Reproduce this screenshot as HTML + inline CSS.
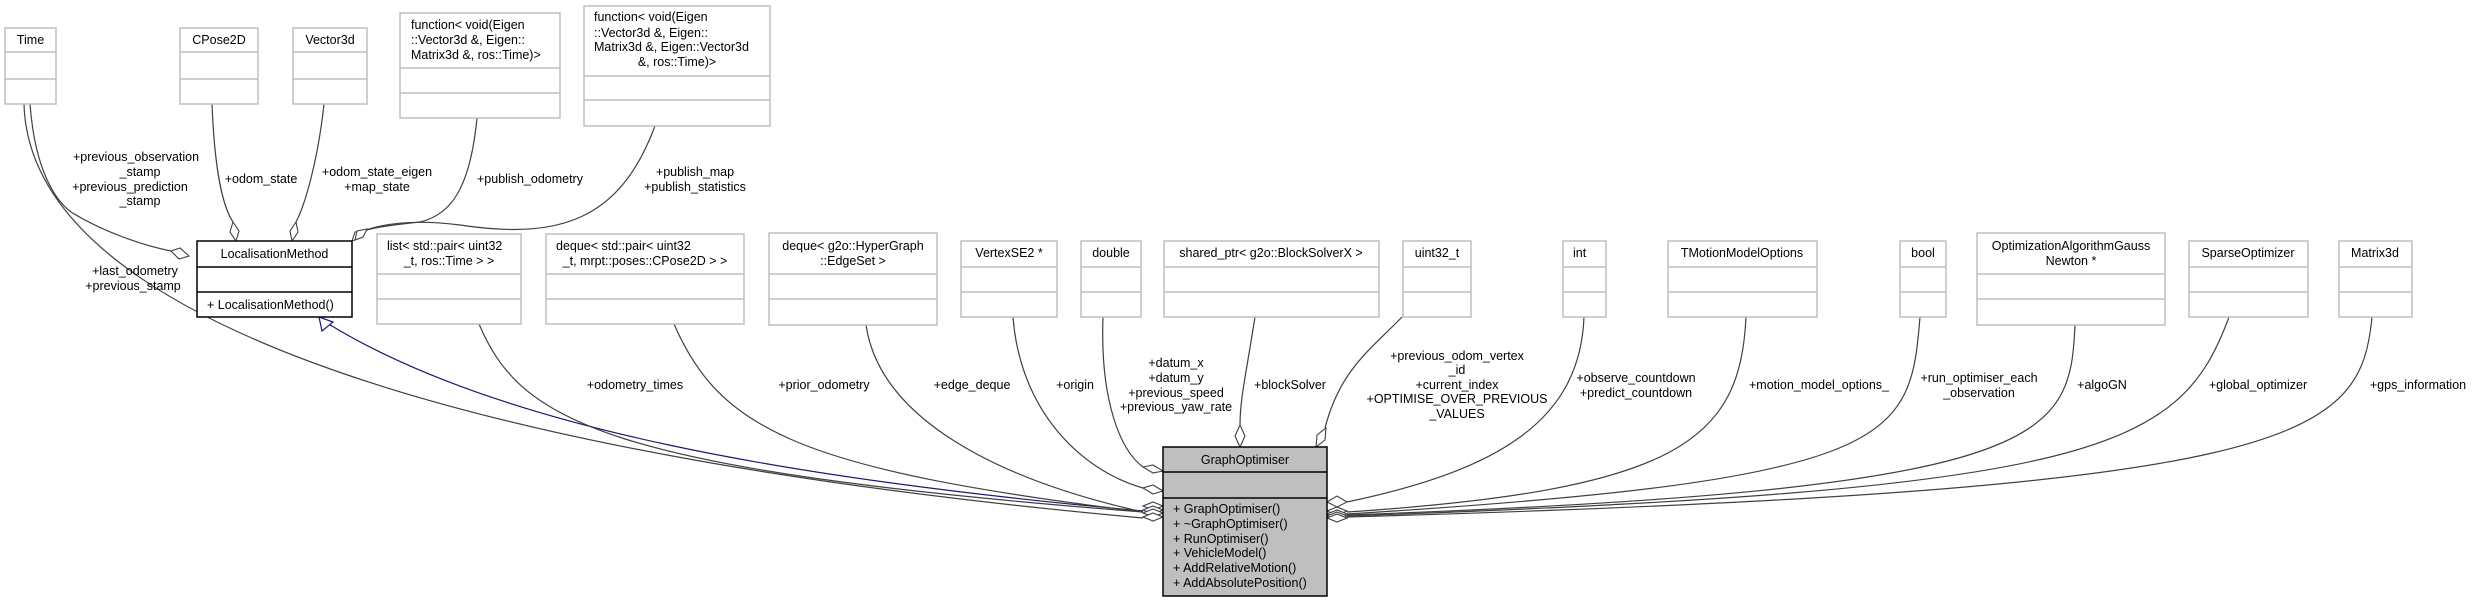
<!DOCTYPE html>
<html><head><meta charset="utf-8"><style>
html,body{margin:0;padding:0;background:#fff;}
svg{display:block;}
text{font-family:"Liberation Sans",sans-serif;font-size:12.5px;fill:#000;}
.b{fill:#fff;stroke:#bfbfbf;stroke-width:1.5;}
.bl{stroke:#bfbfbf;stroke-width:1.5;}
.e{fill:none;stroke:#404040;stroke-width:1.2;}
.d{fill:#fff;stroke:#404040;stroke-width:1.1;}
</style></head><body>
<svg width="2475" height="603" viewBox="0 0 2475 603" xmlns="http://www.w3.org/2000/svg">
<!-- edges -->
<path class="e" d="M24,104 C30,330 500,460 1143,518"/>
<path class="e" d="M30,104 C35,170 55,200 71,212 C100,230 140,245 171,251"/>
<path fill="none" stroke="#191970" stroke-width="1.2" d="M1143,511 C800,480 500,430 327,323"/>
<polygon fill="#fff" stroke="#191970" stroke-width="1.2" points="319,317 322,331 333,322"/>
<path class="e" d="M479,324 C520,420 600,470 1143,512"/>
<path class="e" d="M674,324 C720,430 800,470 1143,512"/>
<path class="e" d="M866,325 C880,420 1000,480 1143,512"/>
<path class="e" d="M1013,317 C1020,410 1080,470 1143,488"/>
<path class="e" d="M1103,317 C1100,400 1120,450 1143,467"/>
<path class="e" d="M1255,317 C1245,380 1240,400 1240,425"/>
<path class="e" d="M1402,317 C1370,350 1340,370 1325,428"/>
<path class="e" d="M1584,317 C1580,420 1500,470 1347,502"/>
<path class="e" d="M1746,317 C1740,440 1680,490 1347,512"/>
<path class="e" d="M1920,317 C1910,440 1900,480 1347,514"/>
<path class="e" d="M2075,325 C2070,440 2050,490 1347,515"/>
<path class="e" d="M2229,317 C2180,450 2100,490 1347,516"/>
<path class="e" d="M2372,317 C2360,440 2300,490 1347,517"/>
<path class="e" d="M212,104 C215,180 225,210 233,222"/>
<path class="e" d="M324,104 C318,160 305,205 296,222"/>
<path class="e" d="M477,118 C470,190 450,215 420,222 C390,225 370,228 362,232"/>
<path class="e" d="M655,126 C620,220 560,240 460,225 C420,220 390,222 366,230"/>
<!-- diamonds -->
<polygon class="d" points="189,256 180,248 171,251 179,259"/>
<polygon class="d" points="233,222 239,231 236,241 230,232"/>
<polygon class="d" points="296,222 298,232 292,241 290,231"/>
<polygon class="d" points="352,241 355,232 364,230 360,238"/>
<polygon class="d" points="355,240 357,231 367,229 363,237"/>
<polygon class="d" points="1240,425 1245,436 1240,447 1235,436"/>
<polygon class="d" points="1316,447 1317,435 1326,428 1325,440"/>
<polygon class="d" points="1163,471 1153,465 1143,467 1153,473"/>
<polygon class="d" points="1163,491 1153,485 1143,488 1153,494"/>
<polygon class="d" points="1163,506 1153,502 1143,506 1153,510"/>
<polygon class="d" points="1163,510 1153,506 1143,510 1153,514"/>
<polygon class="d" points="1163,513 1153,509 1143,513 1153,517"/>
<polygon class="d" points="1163,517 1153,513 1143,517 1153,521"/>
<polygon class="d" points="1327,502 1337,496 1347,502 1337,507"/>
<polygon class="d" points="1327,511 1337,507 1347,511 1337,515"/>
<polygon class="d" points="1327,514 1337,510 1347,514 1337,518"/>
<polygon class="d" points="1327,516 1337,512 1347,516 1337,520"/>
<polygon class="d" points="1327,518 1337,514 1347,518 1337,522"/>
<!-- boxes -->
<g>
<rect class="b" x="5" y="28" width="51" height="76"/><line class="bl" x1="5" y1="52" x2="56" y2="52"/><line class="bl" x1="5" y1="79" x2="56" y2="79"/>
<text x="30.5" y="44" text-anchor="middle">Time</text>
<rect class="b" x="180" y="28" width="78" height="76"/><line class="bl" x1="180" y1="52" x2="258" y2="52"/><line class="bl" x1="180" y1="79" x2="258" y2="79"/>
<text x="219" y="44" text-anchor="middle">CPose2D</text>
<rect class="b" x="293" y="28" width="74" height="76"/><line class="bl" x1="293" y1="52" x2="367" y2="52"/><line class="bl" x1="293" y1="79" x2="367" y2="79"/>
<text x="330" y="44" text-anchor="middle">Vector3d</text>
<rect class="b" x="400" y="13" width="160" height="105"/><line class="bl" x1="400" y1="68" x2="560" y2="68"/><line class="bl" x1="400" y1="93" x2="560" y2="93"/>
<text x="411" y="29">function&lt; void(Eigen</text><text x="411" y="44">::Vector3d &amp;, Eigen::</text><text x="411" y="59">Matrix3d &amp;, ros::Time)&gt;</text>
<rect class="b" x="584" y="6" width="186" height="120"/><line class="bl" x1="584" y1="76" x2="770" y2="76"/><line class="bl" x1="584" y1="100" x2="770" y2="100"/>
<text x="594" y="21">function&lt; void(Eigen</text><text x="594" y="37">::Vector3d &amp;, Eigen::</text><text x="594" y="51">Matrix3d &amp;, Eigen::Vector3d</text><text x="677" y="66" text-anchor="middle">&amp;, ros::Time)&gt;</text>
<rect x="197" y="241" width="155" height="76" fill="#fff" stroke="#000" stroke-width="1.5"/><line x1="197" y1="267" x2="352" y2="267" stroke="#000" stroke-width="1.5"/><line x1="197" y1="292" x2="352" y2="292" stroke="#000" stroke-width="1.5"/>
<text x="274.5" y="258" text-anchor="middle">LocalisationMethod</text><text x="207" y="309">+ LocalisationMethod()</text>
<rect class="b" x="377" y="234" width="144" height="90"/><line class="bl" x1="377" y1="274" x2="521" y2="274"/><line class="bl" x1="377" y1="299" x2="521" y2="299"/>
<text x="387" y="250">list&lt; std::pair&lt; uint32</text><text x="449" y="265" text-anchor="middle">_t, ros::Time &gt; &gt;</text>
<rect class="b" x="546" y="234" width="198" height="90"/><line class="bl" x1="546" y1="274" x2="744" y2="274"/><line class="bl" x1="546" y1="299" x2="744" y2="299"/>
<text x="556" y="250">deque&lt; std::pair&lt; uint32</text><text x="645" y="265" text-anchor="middle">_t, mrpt::poses::CPose2D &gt; &gt;</text>
<rect class="b" x="769" y="233" width="168" height="92"/><line class="bl" x1="769" y1="274" x2="937" y2="274"/><line class="bl" x1="769" y1="299" x2="937" y2="299"/>
<text x="853" y="250" text-anchor="middle">deque&lt; g2o::HyperGraph</text><text x="853" y="265" text-anchor="middle">::EdgeSet &gt;</text>
<rect class="b" x="961" y="241" width="96" height="76"/><line class="bl" x1="961" y1="267" x2="1057" y2="267"/><line class="bl" x1="961" y1="292" x2="1057" y2="292"/>
<text x="1009" y="257" text-anchor="middle">VertexSE2 *</text>
<rect class="b" x="1081" y="241" width="60" height="76"/><line class="bl" x1="1081" y1="267" x2="1141" y2="267"/><line class="bl" x1="1081" y1="292" x2="1141" y2="292"/>
<text x="1111" y="257" text-anchor="middle">double</text>
<rect class="b" x="1164" y="241" width="215" height="76"/><line class="bl" x1="1164" y1="267" x2="1379" y2="267"/><line class="bl" x1="1164" y1="292" x2="1379" y2="292"/>
<text x="1271" y="257" text-anchor="middle">shared_ptr&lt; g2o::BlockSolverX &gt;</text>
<rect class="b" x="1403" y="241" width="68" height="76"/><line class="bl" x1="1403" y1="267" x2="1471" y2="267"/><line class="bl" x1="1403" y1="292" x2="1471" y2="292"/>
<text x="1437" y="257" text-anchor="middle">uint32_t</text>
<rect class="b" x="1563" y="241" width="43" height="76"/><line class="bl" x1="1563" y1="267" x2="1606" y2="267"/><line class="bl" x1="1563" y1="292" x2="1606" y2="292"/>
<text x="1573" y="257">int</text>
<rect class="b" x="1668" y="241" width="149" height="76"/><line class="bl" x1="1668" y1="267" x2="1817" y2="267"/><line class="bl" x1="1668" y1="292" x2="1817" y2="292"/>
<text x="1742" y="257" text-anchor="middle">TMotionModelOptions</text>
<rect class="b" x="1900" y="241" width="46" height="76"/><line class="bl" x1="1900" y1="267" x2="1946" y2="267"/><line class="bl" x1="1900" y1="292" x2="1946" y2="292"/>
<text x="1923" y="257" text-anchor="middle">bool</text>
<rect class="b" x="1977" y="233" width="188" height="92"/><line class="bl" x1="1977" y1="274" x2="2165" y2="274"/><line class="bl" x1="1977" y1="299" x2="2165" y2="299"/>
<text x="2071" y="250" text-anchor="middle">OptimizationAlgorithmGauss</text><text x="2071" y="265" text-anchor="middle">Newton *</text>
<rect class="b" x="2189" y="241" width="119" height="76"/><line class="bl" x1="2189" y1="267" x2="2308" y2="267"/><line class="bl" x1="2189" y1="292" x2="2308" y2="292"/>
<text x="2248" y="257" text-anchor="middle">SparseOptimizer</text>
<rect class="b" x="2339" y="241" width="73" height="76"/><line class="bl" x1="2339" y1="267" x2="2412" y2="267"/><line class="bl" x1="2339" y1="292" x2="2412" y2="292"/>
<text x="2375" y="257" text-anchor="middle">Matrix3d</text>
<rect x="1163" y="447" width="164" height="149" fill="#bfbfbf" stroke="#000" stroke-width="1.5"/><line x1="1163" y1="472" x2="1327" y2="472" stroke="#000" stroke-width="1.5"/><line x1="1163" y1="498" x2="1327" y2="498" stroke="#000" stroke-width="1.5"/>
<text x="1245" y="464" text-anchor="middle">GraphOptimiser</text>
<text x="1173" y="513">+ GraphOptimiser()</text><text x="1173" y="528">+ ~GraphOptimiser()</text><text x="1173" y="543">+ RunOptimiser()</text><text x="1173" y="557">+ VehicleModel()</text><text x="1173" y="572">+ AddRelativeMotion()</text><text x="1173" y="587">+ AddAbsolutePosition()</text>
</g>
<!-- labels -->
<g text-anchor="middle">
<text x="136" y="161">+previous_observation</text><text x="140" y="176">_stamp</text><text x="130" y="191">+previous_prediction</text><text x="140" y="205">_stamp</text>
<text x="261" y="183">+odom_state</text>
<text x="377" y="176">+odom_state_eigen</text><text x="377" y="191">+map_state</text>
<text x="530" y="183">+publish_odometry</text>
<text x="695" y="176">+publish_map</text><text x="695" y="191">+publish_statistics</text>
<text x="135" y="275">+last_odometry</text><text x="133" y="290">+previous_stamp</text>
<text x="635" y="389">+odometry_times</text>
<text x="824" y="389">+prior_odometry</text>
<text x="972" y="389">+edge_deque</text>
<text x="1075" y="389">+origin</text>
<text x="1176" y="367">+datum_x</text><text x="1176" y="382">+datum_y</text><text x="1176" y="397">+previous_speed</text><text x="1176" y="411">+previous_yaw_rate</text>
<text x="1290" y="389">+blockSolver</text>
<text x="1457" y="360">+previous_odom_vertex</text><text x="1457" y="374">_id</text><text x="1457" y="389">+current_index</text><text x="1457" y="403">+OPTIMISE_OVER_PREVIOUS</text><text x="1457" y="418">_VALUES</text>
<text x="1636" y="382">+observe_countdown</text><text x="1636" y="397">+predict_countdown</text>
<text x="1819" y="389">+motion_model_options_</text>
<text x="1979" y="382">+run_optimiser_each</text><text x="1979" y="397">_observation</text>
<text x="2102" y="389">+algoGN</text>
<text x="2258" y="389">+global_optimizer</text>
<text x="2418" y="389">+gps_information</text>
</g>
</svg>
</body></html>
